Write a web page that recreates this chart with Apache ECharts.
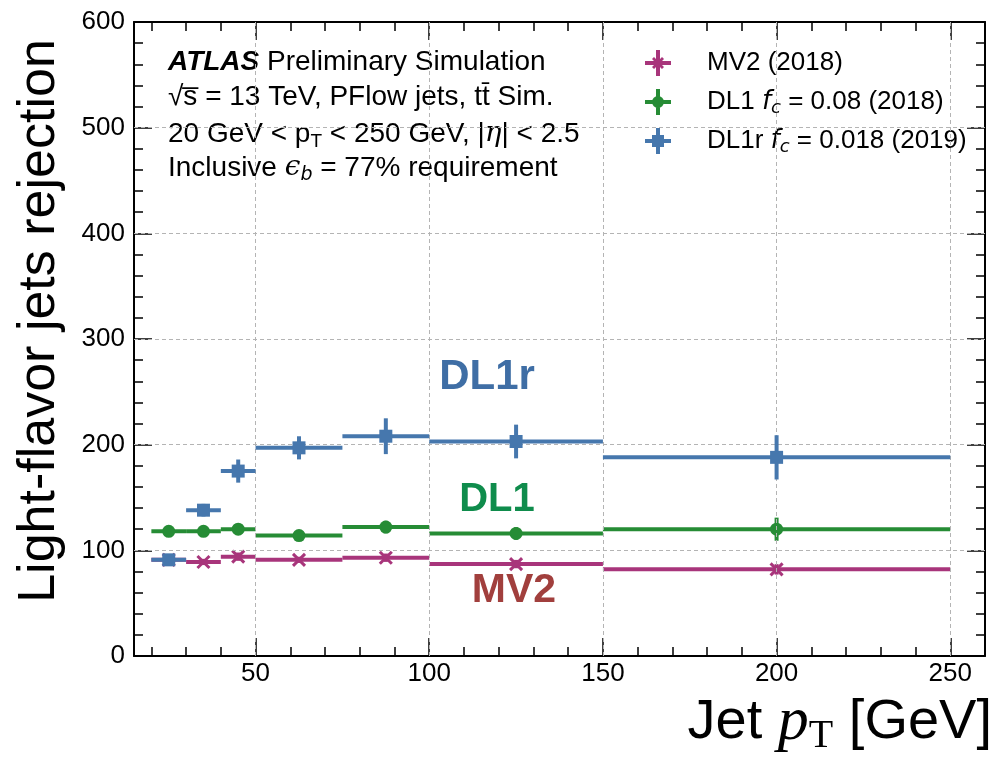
<!DOCTYPE html>
<html>
<head>
<meta charset="utf-8">
<script src="https://cdn.jsdelivr.net/npm/echarts@6/dist/echarts.min.js"></script>
<style>
  html, body { margin: 0; padding: 0; background: #fff; }
  #chart { width: 996px; height: 761px; }
</style>
</head>
<body>
<div id="chart"></div>
<script>
// bins in jet pT [GeV]
var binLow  = [20, 30, 40, 50, 75, 100, 150];
var binHigh = [30, 40, 50, 75, 100, 150, 250];

// light-flavour rejection per bin
var mv2Values  = [91, 89, 94, 91, 93, 87, 82];
var mv2Errors  = [2, 2, 3, 2, 3, 3, 4];
var dl1Values  = [118, 118, 120, 114, 122, 116, 120];
var dl1Errors  = [3, 3, 4, 3, 5, 5, 10];
var dl1rValues = [91, 138, 175, 197, 208, 203, 188];
var dl1rErrors = [4, 5, 10, 10, 16, 15, 20];

var xMajorTicks = [50, 100, 150, 200, 250];
var xMinorTicks = [20, 30, 40, 60, 70, 80, 90, 110, 120, 130, 140, 160, 170, 180, 190, 210, 220, 230, 240, 260];
var yGridValues = [100, 200, 300, 400, 500];

var FONT = "'Liberation Sans', Arial, Helvetica, sans-serif";
var colMV2 = '#a8357b';
var colDL1 = '#268c35';
var colDL1r = '#4677ad';

function buildData(vals, errs) {
  var out = [];
  for (var i = 0; i < vals.length; i++) {
    out.push([binLow[i], binHigh[i], vals[i], (binLow[i] + binHigh[i]) / 2, errs[i]]);
  }
  return out;
}

function makeRender(marker) {
  return function (params, api) {
    var y = api.value(2), e = api.value(4);
    var a = api.coord([api.value(0), y]);
    var b = api.coord([api.value(1), y]);
    var c = api.coord([api.value(3), y]);
    var t = api.coord([api.value(3), y + e]);
    var d = api.coord([api.value(3), y - e]);
    var color = api.visual('color');
    var kids = [
      { type: 'line', shape: { x1: a[0], y1: a[1], x2: b[0], y2: b[1] }, style: { stroke: color, lineWidth: 4 } },
      { type: 'line', shape: { x1: c[0], y1: t[1] - 1, x2: c[0], y2: d[1] + 1 }, style: { stroke: color, lineWidth: 4 } }
    ];
    if (marker === 'circle') {
      kids.push({ type: 'circle', shape: { cx: c[0], cy: c[1], r: 6.5 }, style: { fill: color } });
    } else if (marker === 'square') {
      kids.push({ type: 'rect', shape: { x: c[0] - 6.5, y: c[1] - 6.5, width: 13, height: 13 }, style: { fill: color } });
    } else {
      kids.push({ type: 'line', shape: { x1: c[0] - 6, y1: c[1] - 6, x2: c[0] + 6, y2: c[1] + 6 }, style: { stroke: color, lineWidth: 3 } });
      kids.push({ type: 'line', shape: { x1: c[0] - 6, y1: c[1] + 6, x2: c[0] + 6, y2: c[1] - 6 }, style: { stroke: color, lineWidth: 3 } });
    }
    return { type: 'group', children: kids };
  };
}

var plusPath = 'M11,0 H15 V11 H26 V15 H15 V26 H11 V15 H0 V11 H11 Z ';
var iconMV2 = 'path://' + plusPath + 'M7,9 L9,7 L19,17 L17,19 Z M17,7 L19,9 L9,19 L7,17 Z';
var iconDL1 = 'path://' + plusPath + 'M7,13 A6,6 0 1,1 19,13 A6,6 0 1,1 7,13 Z';
var iconDL1r = 'path://' + plusPath + 'M7,7 H19 V19 H7 Z';

var legendText = {
  'MV2 (2018)': '{g|}MV2 (2018)',
  'DL1 (2018)': '{g|}DL1 {f|f}{c|c}{n| = 0.08 (2018)}',
  'DL1r (2019)': '{g|}DL1r {f|f}{c|c}{n| = 0.018 (2019)}'
};

function xAxisOf(pos, ticks, len, showLine, showLabel) {
  return {
    type: 'value', min: 15, max: 260, position: pos,
    axisLine: { show: showLine, lineStyle: { color: '#000', width: 2 } },
    axisTick: { show: true, inside: true, length: len, customValues: ticks, lineStyle: { color: '#000', width: 1.5 } },
    axisLabel: { show: showLabel, customValues: ticks, fontSize: 26, fontFamily: FONT, color: '#000', margin: 5 },
    splitLine: { show: false }
  };
}

function yAxisOf(pos, showLabel) {
  return {
    type: 'value', min: 0, max: 600, interval: 100, position: pos,
    axisLine: { show: true, lineStyle: { color: '#000', width: 2 } },
    axisTick: { show: true, inside: true, length: 18, lineStyle: { color: '#000', width: 1.5 } },
    minorTick: { show: true, splitNumber: 5, length: 9, lineStyle: { color: '#000', width: 1.5 } },
    axisLabel: { show: showLabel, fontSize: 26, fontFamily: FONT, color: '#000', margin: 9 },
    splitLine: { show: false }
  };
}

var gridLines = [];
xMajorTicks.forEach(function (v) { gridLines.push({ xAxis: v }); });
yGridValues.forEach(function (v) { gridLines.push({ yAxis: v }); });

var chart = echarts.init(document.getElementById('chart'));
var option = {
  backgroundColor: '#fff',
  animation: false,
  grid: { left: 134, right: 11, top: 22, bottom: 105 },
  xAxis: [
    xAxisOf('bottom', xMajorTicks, 18, true, true),
    xAxisOf('bottom', xMinorTicks, 9, false, false),
    xAxisOf('top', xMajorTicks, 18, true, false),
    xAxisOf('top', xMinorTicks, 9, false, false)
  ],
  yAxis: [yAxisOf('left', true), yAxisOf('right', false)],
  legend: {
    orient: 'vertical', left: 640, top: 43,
    itemWidth: 26, itemHeight: 26, itemGap: 9,
    data: [
      { name: 'MV2 (2018)', icon: iconMV2 },
      { name: 'DL1 (2018)', icon: iconDL1 },
      { name: 'DL1r (2019)', icon: iconDL1r }
    ],
    formatter: function (name) { return legendText[name]; },
    textStyle: {
      fontSize: 26, fontFamily: FONT, color: '#000', lineHeight: 30,
      rich: {
        g: { width: 31 },
        f: { fontSize: 26, fontStyle: 'italic', fontFamily: "'DejaVu Sans', sans-serif", lineHeight: 30 },
        c: { fontSize: 18, fontStyle: 'italic', fontFamily: "'DejaVu Sans', sans-serif", verticalAlign: 'bottom', lineHeight: 30 },
        n: { fontSize: 26, fontFamily: FONT, lineHeight: 30 }
      }
    }
  },
  series: [
    {
      name: 'grid', type: 'line', data: [], silent: true,
      markLine: {
        silent: true, symbol: 'none', label: { show: false },
        lineStyle: { color: '#b4b4b4', type: [4, 3], width: 1 },
        data: gridLines
      }
    },
    {
      name: 'MV2 (2018)', type: 'custom', color: colMV2, itemStyle: { color: colMV2 },
      renderItem: makeRender('x'), encode: { x: [0, 1], y: 2 },
      data: buildData(mv2Values, mv2Errors), z: 3
    },
    {
      name: 'DL1 (2018)', type: 'custom', color: colDL1, itemStyle: { color: colDL1 },
      renderItem: makeRender('circle'), encode: { x: [0, 1], y: 2 },
      data: buildData(dl1Values, dl1Errors), z: 4
    },
    {
      name: 'DL1r (2019)', type: 'custom', color: colDL1r, itemStyle: { color: colDL1r },
      renderItem: makeRender('square'), encode: { x: [0, 1], y: 2 },
      data: buildData(dl1rValues, dl1rErrors), z: 5
    }
  ],
  graphic: [
    { type: 'text', left: 168, top: 48, style: { text: '{b|ATLAS} Preliminary Simulation', font: '28px ' + FONT, fill: '#000',
      rich: { b: { fontStyle: 'italic', fontWeight: 'bold', fontSize: 28, fontFamily: FONT } } } },
    { type: 'text', left: 168, top: 83, style: { text: '\u221As\u0305 = 13 TeV, PFlow jets, tt\u0304 Sim.', font: '28px ' + FONT, fill: '#000' } },
    { type: 'text', left: 168, top: 117, style: { text: '20 GeV < p{s|T} < 250 GeV, |{i|\u03B7}| < 2.5', font: '28px ' + FONT, fill: '#000',
      lineHeight: 34,
      rich: { s: { fontSize: 19, fontFamily: FONT, verticalAlign: 'bottom', lineHeight: 34 },
              i: { fontSize: 28, fontStyle: 'italic', fontFamily: "'DejaVu Serif', serif", lineHeight: 34 } } } },
    { type: 'text', left: 168, top: 151, style: { text: 'Inclusive {i|\u03F5}{s|b} = 77% requirement', font: '28px ' + FONT, fill: '#000',
      lineHeight: 34,
      rich: { s: { fontSize: 19, fontStyle: 'italic', fontFamily: "'DejaVu Sans', sans-serif", verticalAlign: 'bottom', lineHeight: 34 },
              i: { fontSize: 28, fontStyle: 'italic', fontFamily: "'DejaVu Serif', serif", lineHeight: 34 } } } },
    { type: 'text', x: 487, y: 377, style: { text: 'DL1r', font: 'bold 42px ' + FONT, fill: '#3f6ea5', align: 'center', verticalAlign: 'middle' } },
    { type: 'text', x: 497, y: 500, style: { text: 'DL1', font: 'bold 40px ' + FONT, fill: '#0f8c4c', align: 'center', verticalAlign: 'middle' } },
    { type: 'text', x: 514, y: 591, style: { text: 'MV2', font: 'bold 41px ' + FONT, fill: '#a13f3d', align: 'center', verticalAlign: 'middle' } },
    { type: 'text', x: 40, y: 321, rotation: Math.PI / 2,
      style: { text: 'Light-flavor jets rejection', font: '52px ' + FONT, fill: '#000', align: 'center', verticalAlign: 'middle' } },
    { type: 'text', right: 4, top: 690,
      style: { text: 'Jet {p|p}{t|T} [GeV]', font: '56px ' + FONT, fill: '#000', lineHeight: 66,
        rich: { p: { fontSize: 62, fontStyle: 'italic', fontFamily: "'Liberation Serif', 'Times New Roman', serif", lineHeight: 66 },
                t: { fontSize: 40, fontFamily: "'Liberation Serif', 'Times New Roman', serif", verticalAlign: 'bottom', lineHeight: 66 } } } }
  ]
};
chart.setOption(option);
</script>
</body>
</html>
